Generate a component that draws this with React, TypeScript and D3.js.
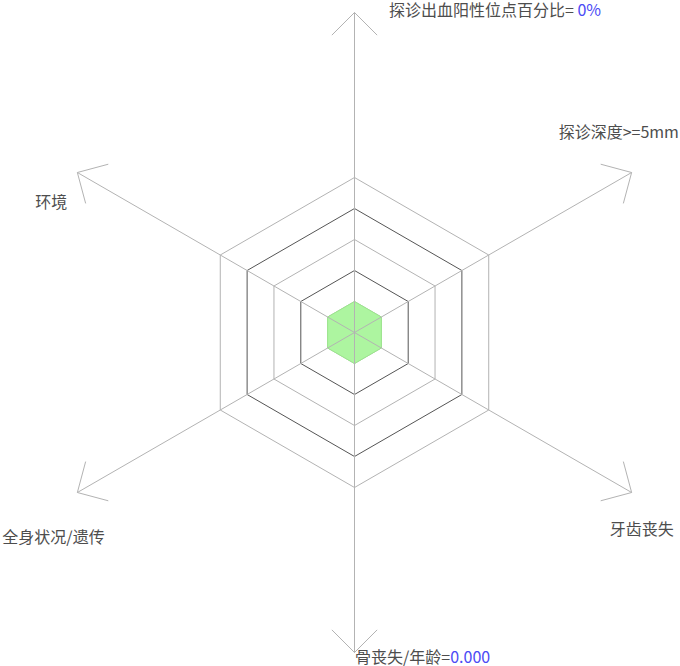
import React from "react";
import * as d3 from "d3";

// Radar categories, clockwise from the top
const categories = [
  "探诊出血阳性位点百分比",
  "探诊深度>=5mm",
  "牙齿丧失",
  "骨丧失/年龄",
  "全身状况/遗传",
  "环境",
];

// Value suffix shown after some labels (blue part)
const labelPrefix = ["= ", "", "", "=", "", ""];
const labelValue = ["0%", "", "", "0.000", "", ""];

// Risk level per axis (1..5)
const seriesValues = [1, 1, 1, 1, 1, 1];

// Grid levels
const levels = [1, 2, 3, 4, 5];

const W = 680;
const H = 666;
const cx = 354.5;
const cy = 332.5;
const gridRadius = 155;
const axisLength = 320;
const arrowLen = 32;

// label offsets from axis tips (x of text start, y of vertical centre)
const labelOffset: [number, number][] = [
  [34.5, -2],
  [-73, -40],
  [-22, 37],
  [0.5, 5],
  [-75, 45],
  [-42, 30],
];

const App: React.FC = () => {
  const n = categories.length;
  const angle = d3
    .scaleLinear()
    .domain([0, n])
    .range([-Math.PI / 2, (3 * Math.PI) / 2]);
  const r = d3.scaleLinear().domain([0, 5]).range([0, gridRadius]);

  const pt = (i: number, rad: number): [number, number] => [
    cx + rad * Math.cos(angle(i)),
    cy + rad * Math.sin(angle(i)),
  ];

  const lineClosed = d3.line().curve(d3.curveLinearClosed);

  const ringPath = (lv: number) =>
    lineClosed(d3.range(n).map((i) => pt(i, r(lv)))) || "";

  const dataPath =
    lineClosed(seriesValues.map((v, i) => pt(i, r(v)))) || "";

  const ringColor = (lv: number) => (lv % 2 === 0 ? "#555" : "#b3b3b3");

  return (
    <svg
      width={W}
      height={H}
      style={{ position: "absolute", left: 0, top: 0 }}
      fontFamily="'Noto Sans CJK SC', 'Noto Sans', sans-serif"
    >
      <rect width={W} height={H} fill="#fff" />
      {levels.map((lv) => (
        <path
          key={lv}
          d={ringPath(lv)}
          fill="none"
          stroke={ringColor(lv)}
          strokeWidth={1}
        />
      ))}
      <path
        d={dataPath}
        fill="#adf5a0"
        stroke="#9be88c"
        strokeWidth={1}
      />
      {categories.map((c, i) => {
        const [tx, ty] = pt(i, axisLength);
        const back = angle(i) + Math.PI;
        const a1: [number, number] = [
          tx + arrowLen * Math.cos(back + Math.PI / 4),
          ty + arrowLen * Math.sin(back + Math.PI / 4),
        ];
        const a2: [number, number] = [
          tx + arrowLen * Math.cos(back - Math.PI / 4),
          ty + arrowLen * Math.sin(back - Math.PI / 4),
        ];
        return (
          <g key={c} stroke="#b3b3b3" strokeWidth={1} fill="none">
            <line x1={cx} y1={cy} x2={tx} y2={ty} />
            <polyline
              points={[a1, [tx, ty], a2].map((p) => p.join(",")).join(" ")}
            />
          </g>
        );
      })}
      {categories.map((c, i) => {
        const [tx, ty] = pt(i, axisLength);
        const [ox, oy] = labelOffset[i];
        return (
          <text
            key={c}
            x={tx + ox}
            y={ty + oy}
            dy="0.35em"
            fontSize={16}
            fill="#4d4d4d"
          >
            {c}
            {labelPrefix[i]}
            {labelValue[i] && <tspan fill="#4b4bf5">{labelValue[i]}</tspan>}
          </text>
        );
      })}
    </svg>
  );
};

export default App;
